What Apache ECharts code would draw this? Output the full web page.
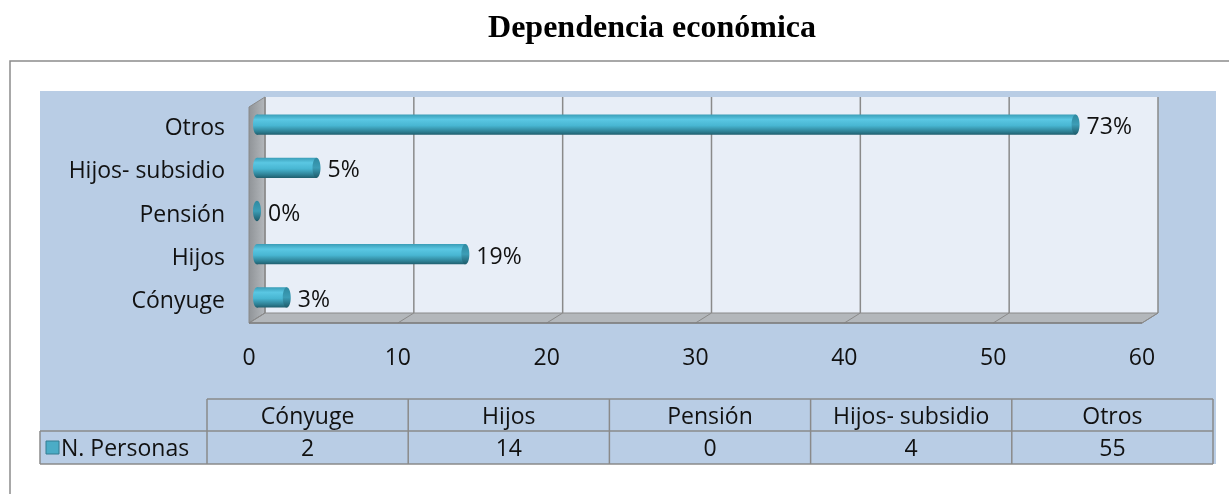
<!DOCTYPE html>
<html>
<head>
<meta charset="utf-8">
<script src="https://cdn.jsdelivr.net/npm/echarts@6/dist/echarts.min.js"></script>
<style>
  html, body { margin: 0; padding: 0; background: #fff; }
  #main { width: 1229px; height: 494px; }
</style>
</head>
<body>
<div id="main"></div>
<script>
// datos
var categories = ['Cónyuge', 'Hijos', 'Pensión', 'Hijos- subsidio', 'Otros'];
var personas = [2, 14, 0, 4, 55];
var porcentajes = [3, 19, 0, 5, 73];
var xTicks = [0, 10, 20, 30, 40, 50, 60];
var serieNombre = 'N. Personas';
var titulo = 'Dependencia económica';

var FONT = '"Open Sans", "Noto Sans", sans-serif';
var FS = 23;
var GRID = { left: 249, top: 107, width: 893, height: 216 };
var DEPTH = { x: 16, y: -10 }; // profundidad del efecto 3D

var myChart = echarts.init(document.getElementById('main'));

// barra tipo cilindro, a media profundidad
function renderBar(params, api) {
  var v = api.value(0);
  var idx = api.value(1);
  var s = api.coord([0, idx]);
  var e = api.coord([v, idx]);
  var h = api.size([0, 1])[1] * 0.47;
  var dx = DEPTH.x / 2, dy = DEPTH.y / 2 + 1;
  var cy = s[1] + dy;
  var x0 = s[0] + dx, x1 = e[0] + dx;
  var body = new echarts.graphic.LinearGradient(0, 0, 0, 1, [
    { offset: 0, color: '#3a9db7' },
    { offset: 0.25, color: '#5ac7e3' },
    { offset: 0.55, color: '#48b6d2' },
    { offset: 0.85, color: '#2d7f93' },
    { offset: 1, color: '#1f5e6e' }
  ]);
  var cap = new echarts.graphic.LinearGradient(0, 0, 0, 1, [
    { offset: 0, color: '#2f8aa1' },
    { offset: 0.5, color: '#3c9db6' },
    { offset: 1, color: '#1d5a69' }
  ]);
  var children = [];
  if (x1 - x0 > 0) {
    children.push({ type: 'ellipse', shape: { cx: x0, cy: cy, rx: 4, ry: h / 2 }, style: { fill: body } });
    children.push({ type: 'rect', shape: { x: x0, y: cy - h / 2, width: x1 - x0, height: h }, style: { fill: body } });
  }
  children.push({ type: 'ellipse', shape: { cx: x1, cy: cy, rx: 4, ry: h / 2 }, style: { fill: cap } });
  children.push({
    type: 'text',
    style: {
      x: x1 + 11, y: cy + 3, text: api.value(2) + '%',
      font: FS + 'px ' + FONT, fill: '#111', verticalAlign: 'middle', align: 'left'
    }
  });
  return { type: 'group', children: children };
}

myChart.setOption({
  animation: false,
  backgroundColor: '#fff',
  grid: { left: GRID.left, top: GRID.top, width: GRID.width, height: GRID.height, containLabel: false },
  xAxis: {
    type: 'value', min: 0, max: 60, interval: 10,
    axisLine: { show: false }, axisTick: { show: false }, splitLine: { show: false },
    axisLabel: { margin: 24, fontSize: FS, fontFamily: FONT, color: '#111' }
  },
  yAxis: {
    type: 'category', data: categories,
    axisLine: { show: false }, axisTick: { show: false },
    axisLabel: { margin: 24, fontSize: FS, fontFamily: FONT, color: '#111', padding: [7, 0, 0, 0] }
  },
  series: [{
    name: serieNombre,
    type: 'custom',
    renderItem: renderBar,
    encode: { x: 0, y: 1 },
    z: 10,
    data: personas.map(function (v, i) { return [v, i, porcentajes[i]]; })
  }]
});

// fondo, paredes 3D y tabla de datos
function buildGraphics() {
  var g = [];
  var top = GRID.top, bottom = GRID.top + GRID.height;
  var left = GRID.left, right = GRID.left + GRID.width;
  var dx = DEPTH.x, dy = DEPTH.y;
  var line = '#8a8a8a';

  g.push({ type: 'text', z: 100,
    style: { x: 652, y: 29, text: titulo, font: 'bold 32px "Liberation Serif", serif', fill: '#000', align: 'center', verticalAlign: 'middle' } });
  // marco exterior
  g.push({ type: 'rect', shape: { x: 10, y: 61, width: 1240, height: 460 },
    style: { fill: '#fff', stroke: '#8c8c8c', lineWidth: 1.5 }, z: -20 });
  // area azul
  g.push({ type: 'rect', shape: { x: 40, y: 91, width: 1176, height: 373 },
    style: { fill: '#b9cde5' }, z: -19 });
  // pared del fondo
  g.push({ type: 'rect', shape: { x: left + dx, y: top + dy, width: GRID.width, height: GRID.height },
    style: { fill: '#e8eef7' }, z: -18 });
  // pared lateral
  g.push({ type: 'polygon', shape: { points: [[left, top], [left + dx, top + dy], [left + dx, bottom + dy], [left, bottom]] },
    style: { fill: new echarts.graphic.LinearGradient(0, 0, 1, 0, [{ offset: 0, color: '#8f9397' }, { offset: 1, color: '#b5b9bd' }]),
      stroke: line, lineWidth: 1 }, z: -17 });
  // piso
  g.push({ type: 'polygon', shape: { points: [[left, bottom], [left + dx, bottom + dy], [right + dx, bottom + dy], [right, bottom]] },
    style: { fill: '#b3b7bb', stroke: line, lineWidth: 1 }, z: -17 });
  xTicks.forEach(function (t) {
    var px = myChart.convertToPixel({ gridIndex: 0 }, [t, 0])[0];
    g.push({ type: 'line', shape: { x1: px + dx, y1: top + dy, x2: px + dx, y2: bottom + dy },
      style: { stroke: line, lineWidth: 1.5 }, z: -16 });
    g.push({ type: 'line', shape: { x1: px + dx, y1: bottom + dy, x2: px, y2: bottom },
      style: { stroke: line, lineWidth: 1 }, z: -16 });
  });
  g.push({ type: 'line', shape: { x1: left, y1: bottom, x2: right, y2: bottom },
    style: { stroke: '#7f7f7f', lineWidth: 1.5 }, z: -15 });

  // tabla
  var colX = [40, 207];
  var colW = 201.2;
  for (var i = 0; i < categories.length; i++) colX.push(207 + colW * (i + 1));
  var rowY = [399, 431, 464];
  var tFont = FS + 'px ' + FONT;
  var ls = { stroke: line, lineWidth: 1.5 };
  g.push({ type: 'line', shape: { x1: colX[1], y1: rowY[0], x2: colX[colX.length - 1], y2: rowY[0] }, style: ls });
  g.push({ type: 'line', shape: { x1: colX[0], y1: rowY[1], x2: colX[colX.length - 1], y2: rowY[1] }, style: ls });
  g.push({ type: 'line', shape: { x1: colX[0], y1: rowY[2], x2: colX[colX.length - 1], y2: rowY[2] }, style: ls });
  g.push({ type: 'line', shape: { x1: colX[0], y1: rowY[1], x2: colX[0], y2: rowY[2] }, style: ls });
  for (var c = 1; c < colX.length; c++) {
    g.push({ type: 'line', shape: { x1: colX[c], y1: rowY[0], x2: colX[c], y2: rowY[2] }, style: ls });
  }
  categories.forEach(function (cat, i) {
    var cx = (colX[i + 1] + colX[i + 2]) / 2;
    g.push({ type: 'text', style: { x: cx, y: (rowY[0] + rowY[1]) / 2 + 2, text: cat, font: tFont, fill: '#111', align: 'center', verticalAlign: 'middle' } });
    g.push({ type: 'text', style: { x: cx, y: (rowY[1] + rowY[2]) / 2 + 2, text: String(personas[i]), font: tFont, fill: '#111', align: 'center', verticalAlign: 'middle' } });
  });
  // leyenda
  g.push({ type: 'rect', shape: { x: 46, y: 441, width: 13, height: 13 },
    style: { fill: '#4bacc6', stroke: '#357d91', lineWidth: 1 } });
  g.push({ type: 'text', style: { x: 61, y: (rowY[1] + rowY[2]) / 2 + 2, text: serieNombre, font: tFont, fill: '#111', align: 'left', verticalAlign: 'middle' } });
  return g;
}

myChart.setOption({ graphic: buildGraphics() });
</script>
</body>
</html>
